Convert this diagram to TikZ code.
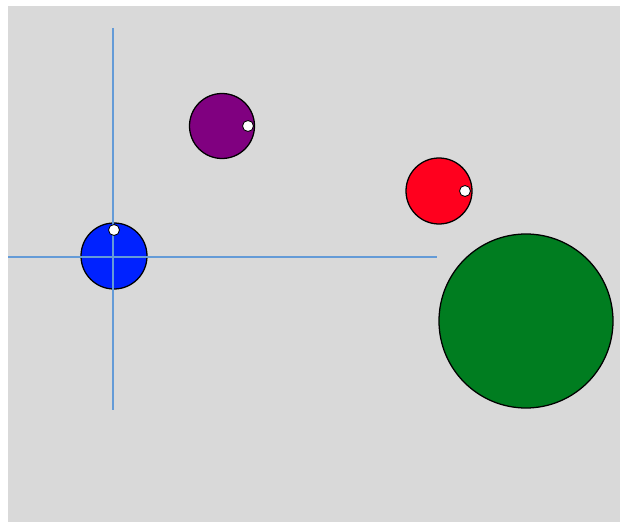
\documentclass[tikz,border=0pt]{standalone}
\usepackage{xcolor}
\usepackage{tikz}
\usetikzlibrary{positioning}

\definecolor{panelgray}{RGB}{217,217,217}
\definecolor{axisblue}{RGB}{100,155,215}
\definecolor{ballblue}{RGB}{0,34,255}
\definecolor{ballpurple}{RGB}{128,0,128}
\definecolor{ballred}{RGB}{255,0,30}
\definecolor{ballgreen}{RGB}{0,125,32}

\begin{document}
\begin{tikzpicture}[x=0.5mm,y=-0.5mm,
  ball/.style={circle,draw=black,line width=1.8pt,inner sep=0pt},
  spot/.style={circle,draw=black,fill=white,line width=1.2pt,inner sep=0pt,minimum size=5.5mm},
  crossline/.style={draw=axisblue,line width=1.8pt}
]
  \useasboundingbox (0,0) rectangle (620,522);
  \fill[panelgray] (8,6) rectangle (620,522);

  % balls
  \node[ball,fill=ballblue,minimum size=33mm] (blue) at (114,256) {};
  \node[ball,fill=ballpurple,minimum size=32.5mm] (purple) at (222,126) {};
  \node[ball,fill=ballred,minimum size=33mm] (red) at (439,191) {};
  \node[ball,fill=ballgreen,minimum size=87mm] (green) at (526,321) {};

  % crosshair
  \coordinate (vtop) at (113,28);
  \coordinate (vbot) at (113,410);
  \coordinate (hleft) at (8,257);
  \coordinate (hright) at (437,257);
  \draw[crossline] (vtop) -- (vbot);
  \draw[crossline] (hleft) -- (hright);

  % direction markers
  \node[spot] (bluespot) at (114,230) {};
  \node[spot] (purplespot) at (248,126) {};
  \node[spot] (redspot) at (465,191) {};
\end{tikzpicture}
\end{document}
